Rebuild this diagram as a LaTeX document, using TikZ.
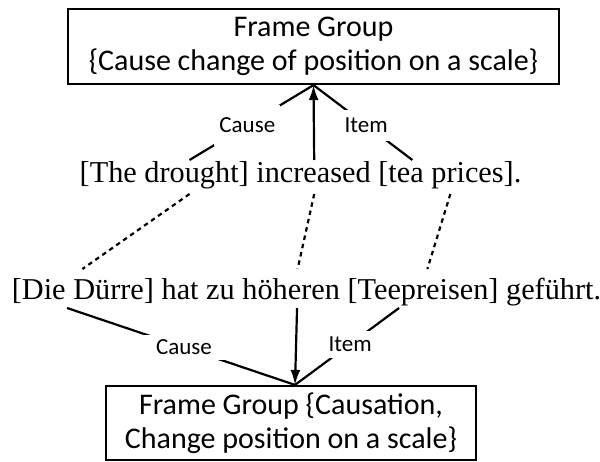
\documentclass[tikz,border=0pt]{standalone}
\usepackage{fontspec}
\setmainfont{Liberation Serif}
\newfontfamily\boxfont{Carlito}
\usetikzlibrary{arrows.meta,calc}
\tikzset{
  framebox/.style={draw, line width=2.2pt, align=center,
    font=\boxfont\fontsize{30}{34}\selectfont, inner sep=0pt},
  sentence/.style={font=\fontsize{30.3}{34}\selectfont, inner sep=0pt, anchor=base},
  rolelabel/.style={font=\boxfont\fontsize{23}{26}\selectfont, fill=white,
    text height=15pt, text depth=0pt},
  roleline/.style={line width=2.2pt},
  alignline/.style={line width=2.2pt, dash pattern=on 4.5pt off 4pt},
  evoke/.style={line width=2.2pt, -{Latex[length=15pt,width=10pt]}}
}
\begin{document}
\begin{tikzpicture}[x=1pt,y=-1pt]
\useasboundingbox (0,0) rectangle (600,462);

% frame group boxes
\node[framebox, minimum width=491pt, minimum height=75pt] (top) at (313.5,46.5)
  {Frame Group\\\{Cause change of position on a scale\}};
\node[framebox, minimum width=370pt, minimum height=74pt] (bot) at (291,423)
  {Frame Group \{Causation,\\Change position on a scale\}};

% the two sentences (placed on their baselines)
\node[sentence] (en) at (300.5,183) {[The drought] increased [tea prices].};
\node[sentence] (de) at (306.5,300) {[Die Dürre] hat zu höheren [Teepreisen] geführt.};

% where the lines meet the boxes
\coordinate (tj) at (top.south);
\coordinate (bj) at ($(bot.north)+(4,0)$);

% attachment points on the English sentence
\coordinate (enCause)   at ($(en.base west)!0.249!(en.base east)+(0,-23)$);
\coordinate (enVerb)    at ($(en.base west)!0.531!(en.base east)+(0,-23)$);
\coordinate (enItem)    at ($(en.base west)!0.753!(en.base east)+(0,-23)$);
\coordinate (enCauseLo) at ($(en.base west)!0.249!(en.base east)+(0,11)$);
\coordinate (enVerbLo)  at ($(en.base west)!0.531!(en.base east)+(0,11)$);
\coordinate (enItemLo)  at ($(en.base west)!0.839!(en.base east)+(0,11)$);

% attachment points on the German sentence
\coordinate (deCauseHi) at ($(de.base west)!0.120!(de.base east)+(0,-31)$);
\coordinate (deVerbHi)  at ($(de.base west)!0.485!(de.base east)+(0,-31)$);
\coordinate (deItemHi)  at ($(de.base west)!0.705!(de.base east)+(0,-31)$);
\coordinate (deCause)   at ($(de.base west)!0.094!(de.base east)+(0,8)$);
\coordinate (deVerb)    at ($(de.base west)!0.484!(de.base east)+(0,8)$);
\coordinate (deItem)    at ($(de.base west)!0.657!(de.base east)+(0,8)$);

% English frame roles
\draw[roleline] (enCause) -- node[rolelabel, pos=0.466, inner xsep=5pt, inner ysep=13pt] {Cause} (tj);
\draw[roleline] (enItem) -- node[rolelabel, pos=0.467, inner xsep=2pt, inner ysep=8pt] {Item} (tj);
\draw[evoke] (enVerb) -- (tj);

% word alignments
\draw[alignline] (enCauseLo) -- (deCauseHi);
\draw[alignline] (enVerbLo) -- (deVerbHi);
\draw[alignline] (enItemLo) -- (deItemHi);

% German frame roles
\draw[roleline] (deCause) -- node[rolelabel, pos=0.513, inner xsep=14pt, inner ysep=5pt] {Cause} (bj);
\draw[roleline] (deItem) -- node[rolelabel, pos=0.47, inner xsep=2pt, inner ysep=6pt] {Item} (bj);
\draw[evoke] (deVerb) -- (bj);
\end{tikzpicture}
\end{document}
